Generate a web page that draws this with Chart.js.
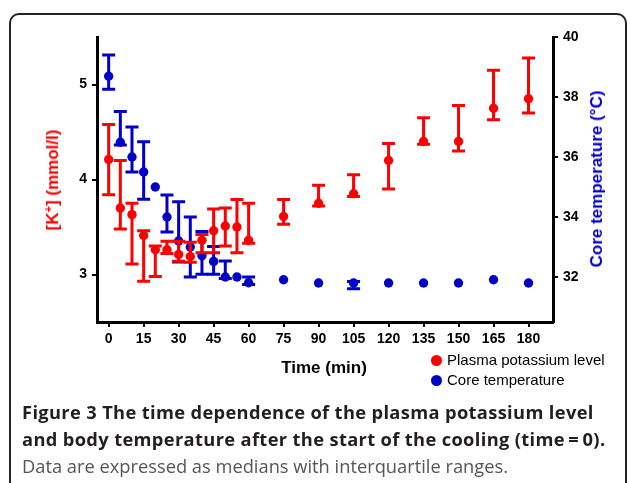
<!DOCTYPE html>
<html>
<head>
<meta charset="utf-8">
<script src="https://cdn.jsdelivr.net/npm/chart.js@4/dist/chart.umd.min.js"></script>
<style>
  html, body { margin: 0; padding: 0; background: #fff; }
  #wrap { position: relative; width: 627px; height: 483px; overflow: hidden; }
  #frame {
    position: absolute; left: 9px; top: 13px; width: 618px; height: 540px;
    border: 2px solid #222; border-radius: 10px; box-sizing: border-box;
  }
  canvas { position: absolute; left: 0; top: 0; }
  .axis-title {
    position: absolute; white-space: nowrap;
    font: bold 17px "Liberation Sans", Arial, sans-serif;
    transform: translate(-50%, -50%);
  }
  .axis-title sup { font-size: 11px; vertical-align: 6px; line-height: 0; }
  .legend {
    position: absolute; left: 431px; font: 15px "Liberation Sans", Arial, sans-serif;
    color: #000; white-space: nowrap;
  }
  .legend span.dot {
    display: inline-block; width: 11px; height: 11px; border-radius: 50%;
    margin-right: 5px; vertical-align: -1px;
  }
  #caption {
    position: absolute; left: 22px; top: 398px; width: 605px;
    font-family: "Open Sans", sans-serif; font-size: 18.3px; line-height: 27px;
    color: #231f20; white-space: nowrap;
  }
  #caption b { font-weight: bold; letter-spacing: 0.35px; }
  #caption .note { color: #555; }
</style>
</head>
<body>
<div id="wrap">
  <div id="frame"></div>
  <canvas id="chart" width="627" height="483"></canvas>
  <div class="axis-title" style="left:53px; top:180px; color:#ff0000; transform: translate(-50%,-50%) rotate(-90deg);">[K<sup>+</sup>] (mmol/l)</div>
  <div class="axis-title" style="left:597px; top:179px; color:#0000c8; transform: translate(-50%,-50%) rotate(-90deg);">Core temperature (°C)</div>
  <div class="axis-title" style="left:324px; top:368px; color:#000;">Time (min)</div>
  <div class="legend" style="top:351px;"><span class="dot" style="background:#ff0000"></span>Plasma potassium level</div>
  <div class="legend" style="top:371px;"><span class="dot" style="background:#0000c8"></span>Core temperature</div>
  <div id="caption">
    <b>Figure 3 The time dependence of the plasma potassium level<br>and body temperature after the start of the cooling (time&thinsp;=&thinsp;0).</b><br>
    <span class="note">Data are expressed as medians with interquartile ranges.</span>
  </div>
</div>
<script>
// Time points (min)
const times = [0, 5, 10, 15, 20, 25, 30, 35, 40, 45, 50, 55, 60, 75, 90, 105, 120, 135, 150, 165, 180];

// Plasma potassium, mmol/l: median and interquartile range
const kMedian = [4.21, 3.70, 3.63, 3.41, 3.26, 3.26, 3.21, 3.19, 3.36, 3.46, 3.51, 3.50, 3.36, 3.61, 3.75, 3.85, 4.20, 4.40, 4.40, 4.75, 4.85];
const kLow    = [3.84, 3.48, 3.11, 2.93, 2.98, 3.22, 3.14, 3.13, 3.23, 3.23, 3.30, 3.23, 3.33, 3.53, 3.72, 3.82, 3.90, 4.37, 4.30, 4.63, 4.70];
const kHigh   = [4.58, 4.20, 3.75, 3.46, 3.30, 3.35, 3.35, 3.34, 3.42, 3.69, 3.70, 3.79, 3.75, 3.79, 3.94, 4.05, 4.38, 4.65, 4.78, 5.15, 5.28];

// Core temperature, °C: median and interquartile range
const tempMedian = [38.69, 36.49, 36.0, 35.5, 35.0, 34.0, 33.2, 33.0, 32.71, 32.52, 32.0, 32.0, 31.81, 31.91, 31.8, 31.8, 31.8, 31.8, 31.8, 31.91, 31.8];
const tempLow    = [38.26, 36.4, 35.5, 34.59, null, 33.5, 32.5, 32.0, 32.09, 32.09, 31.95, null, 31.75, null, null, 31.61, null, null, null, null, null];
const tempHigh   = [39.40, 37.52, 37.0, 36.51, null, 34.73, 34.51, 34.0, 33.52, 33.02, 32.53, null, 32.0, null, null, 31.85, null, null, null, null, null];

// Tick labels
const timeTicks = [0, 15, 30, 45, 60, 75, 90, 105, 120, 135, 150, 165, 180];
const kTicks = [3, 4, 5];
const tempTicks = [32, 34, 36, 38, 40];

const RED = '#ff0000';
const BLUE = '#0000c8';
const tickFont = { family: '"Liberation Sans", Arial, sans-serif', size: 14, weight: 'bold' };

// draws the interquartile bars just before each dataset's points
const errorBars = {
    id: 'errorBars',
    beforeDatasetDraw(chart, args) {
        const ds = chart.data.datasets[args.index];
        const yScale = chart.scales[ds.yAxisID];
        const ctx = chart.ctx;
        ctx.save();
        ctx.strokeStyle = ds.backgroundColor;
        ctx.lineWidth = 3;
        args.meta.data.forEach((pt, i) => {
            const lo = ds.low[i], hi = ds.high[i];
            if (lo == null && hi == null) return;
            const x = pt.x;
            const yLo = yScale.getPixelForValue(lo == null ? ds.data[i].y : lo);
            const yHi = yScale.getPixelForValue(hi == null ? ds.data[i].y : hi);
            ctx.beginPath();
            ctx.moveTo(x, yLo);
            ctx.lineTo(x, yHi);
            if (lo != null) { ctx.moveTo(x - 6.5, yLo); ctx.lineTo(x + 6.5, yLo); }
            if (hi != null) { ctx.moveTo(x - 6.5, yHi); ctx.lineTo(x + 6.5, yHi); }
            ctx.stroke();
        });
        ctx.restore();
    }
};

function axisStyle() {
    return {
        grid: { display: true, drawOnChartArea: false, drawTicks: true, tickLength: 5, color: '#000', lineWidth: 2 },
        border: { display: true, color: '#000', width: 3 },
    };
}

const ctx = document.getElementById('chart').getContext('2d');
new Chart(ctx, {
    type: 'scatter',
    data: {
        datasets: [
            {
                label: 'Plasma potassium level',
                data: times.map((t, i) => ({ x: t, y: kMedian[i] })),
                low: kLow,
                high: kHigh,
                yAxisID: 'y',
                backgroundColor: RED,
                borderWidth: 0,
                pointRadius: 4.7
            },
            {
                label: 'Core temperature',
                data: times.map((t, i) => ({ x: t, y: tempMedian[i] })),
                low: tempLow,
                high: tempHigh,
                yAxisID: 'y1',
                backgroundColor: BLUE,
                borderWidth: 0,
                pointRadius: 4.7
            }
        ]
    },
    options: {
        responsive: false,
        animation: false,
        devicePixelRatio: 1,
        layout: { padding: { top: 37, left: 0, right: 0, bottom: 0 } },
        plugins: {
            legend: { display: false },
            tooltip: { enabled: false }
        },
        scales: {
            x: {
                type: 'linear',
                min: -5,
                max: 190.5,
                afterBuildTicks: s => { s.ticks = timeTicks.map(v => ({ value: v })); },
                afterFit: s => { s.height = 161; },
                ticks: { font: tickFont, color: '#000', padding: 4, autoSkip: false, maxRotation: 0 },
                ...axisStyle()
            },
            y: {
                position: 'left',
                min: 2.5,
                max: 5.5,
                afterBuildTicks: s => { s.ticks = kTicks.map(v => ({ value: v })); },
                afterFit: s => { s.width = 97; },
                ticks: { font: tickFont, color: '#000', padding: 5 },
                ...axisStyle()
            },
            y1: {
                position: 'right',
                min: 30.5,
                max: 40,
                afterBuildTicks: s => { s.ticks = tempTicks.map(v => ({ value: v })); },
                afterFit: s => { s.width = 74; },
                ticks: { font: tickFont, color: '#000', padding: 5 },
                ...axisStyle()
            }
        }
    },
    plugins: [errorBars]
});
</script>
</body>
</html>
